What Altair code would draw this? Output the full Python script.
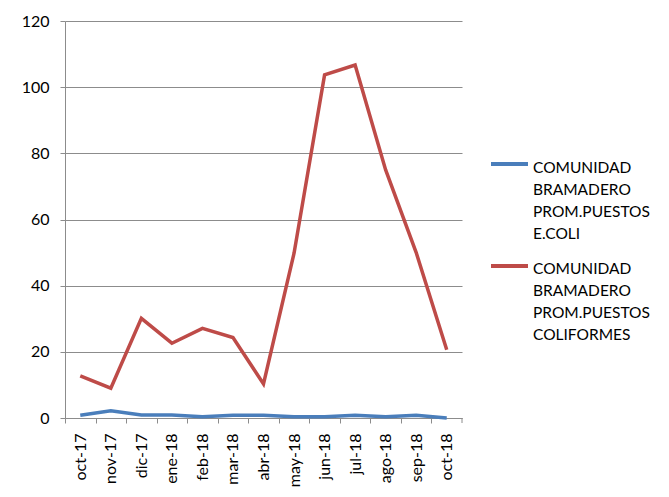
import altair as alt
import pandas as pd

months = ["oct-17", "nov-17", "dic-17", "ene-18", "feb-18", "mar-18", "abr-18",
          "may-18", "jun-18", "jul-18", "ago-18", "sep-18", "oct-18"]
ecoli = [0.8, 2.2, 0.9, 0.9, 0.4, 0.8, 0.8, 0.4, 0.4, 0.8, 0.4, 0.8, 0.0]
coliformes = [12.7, 9.0, 30.1, 22.6, 27.1, 24.3, 10.3, 49.8, 103.7, 106.7, 75.0, 50.0, 20.6]
series_names = ["COMUNIDAD BRAMADERO PROM.PUESTOS E.COLI",
                "COMUNIDAD BRAMADERO PROM.PUESTOS COLIFORMES"]
legend_labels = ["COMUNIDAD|BRAMADERO|PROM.PUESTOS|E.COLI",
                 "COMUNIDAD|BRAMADERO|PROM.PUESTOS|COLIFORMES"]
colors = ["#4A7EBB", "#BE4B48"]
y_ticks = [0, 20, 40, 60, 80, 100, 120]

W, H = 397, 397
step = W / len(months)
FONT = "Lato"
GRID = "#8C8C8C"

rows = []
for name, vals in zip(series_names, [ecoli, coliformes]):
    for m, v in zip(months, vals):
        rows.append({"month": m, "value": v, "series": name})
df = pd.DataFrame(rows)

x_enc = alt.X("month:N", sort=months,
              scale=alt.Scale(type="point", padding=0.5, domain=months),
              axis=alt.Axis(title=None, labelAngle=-90, labelAlign="right",
                            labelBaseline="middle", labelFont=FONT, labelFontSize=16,
                            labelColor="#000000", labelPadding=10,
                            tickOffset=-step / 2, labelOffset=step / 2,
                            tickSize=5, tickColor=GRID, domainColor=GRID,
                            grid=False, labelOverlap=False))
y_enc = alt.Y("value:Q",
              scale=alt.Scale(domain=[0, 120], nice=False, zero=True),
              axis=alt.Axis(title=None, values=y_ticks, labelFont=FONT, labelFontSize=16,
                            labelColor="#000000", labelPadding=11, tickSize=5,
                            tickColor=GRID, domainColor=GRID, gridColor=GRID,
                            gridOpacity=1, grid=True))

lines = alt.Chart(df).mark_line(strokeWidth=3.5).encode(
    x=x_enc, y=y_enc,
    color=alt.Color("series:N", scale=alt.Scale(domain=series_names, range=colors),
                    legend=None),
    order=alt.Order("series:N"),
)

end_tick = alt.Chart(pd.DataFrame({"a": [0]})).mark_rule(color=GRID, strokeWidth=1).encode(
    x=alt.value(W), y=alt.value(H), y2=alt.value(H + 5))

leg_df = pd.DataFrame({"label": legend_labels, "series": series_names})
leg_layers = []
sym_y = [143, 245]
txt_y = [140, 241]
for i in range(2):
    base = alt.Chart(leg_df).transform_filter(alt.datum.series == series_names[i])
    leg_layers.append(base.mark_rule(strokeWidth=4, color=colors[i]).encode(
        x=alt.value(426), x2=alt.value(463), y=alt.value(sym_y[i])))
    leg_layers.append(base.mark_text(lineBreak="|", lineHeight=22, align="left",
                                     baseline="top", font=FONT, fontSize=15.5,
                                     color="#000000").encode(
        x=alt.value(468), y=alt.value(txt_y[i]), text="label:N"))

chart = alt.layer(lines, end_tick, *leg_layers).properties(
    width=W, height=H,
    autosize=alt.AutoSizeParams(type="none"),
    padding={"left": 57, "top": 13, "right": 199, "bottom": 71},
).configure_view(stroke=None)

chart.save("out.html", embed_options={"renderer": "svg", "actions": False})
